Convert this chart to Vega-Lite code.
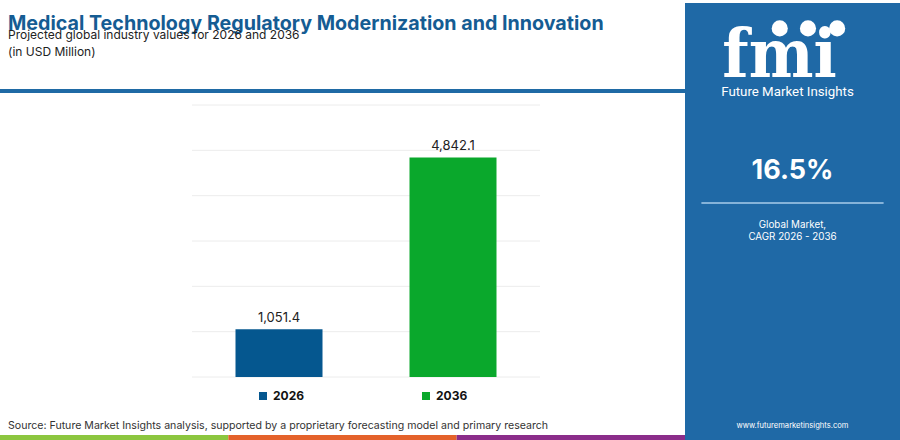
{
  "$schema": "https://vega.github.io/schema/vega-lite/v6.json",
  "padding": {"left": 0, "top": 3, "right": 0, "bottom": 0},
  "background": "#ffffff",
  "spacing": 0,
  "bounds": "full",
  "config": {"view": {"stroke": null}, "font": "Inter"},
  "resolve": {"scale": {"color": "independent", "x": "independent", "y": "independent"}, "legend": {"color": "independent"}},
  "hconcat": [
    {
      "concat": [
        {
          "width": 685,
          "height": 90,
          "title": {
            "text": "Medical Technology Regulatory Modernization and Innovation",
            "subtitle": ["Projected global industry values for 2026 and 2036", "(in USD Million)"],
            "anchor": "start",
            "frame": "group",
            "dx": 8,
            "offset": -55,
            "font": "Inter",
            "fontSize": 19.7,
            "fontWeight": "bold",
            "color": "#155c93",
            "subtitleFont": "Inter",
            "subtitleFontSize": 12,
            "subtitleColor": "#222222",
            "subtitlePadding": -4,
            "subtitleLineHeight": 17
          },
          "data": {"values": [{"part": "header rule"}]},
          "layer": [
            {
              "mark": {"type": "rect", "color": "#1f6aa5"},
              "encoding": {
                "y": {"datum": 0, "type": "quantitative", "scale": {"domain": [0, 22.5]}, "axis": null},
                "y2": {"datum": 1}
              }
            }
          ]
        },
        {
          "width": 685,
          "height": 272,
          "layer": [
            {
              "data": {"name": "gridlines"},
              "mark": {"type": "rule", "color": "#ececec", "strokeWidth": 1},
              "encoding": {
                "y": {"field": "grid", "type": "quantitative"},
                "x": {"datum": "2026", "type": "nominal", "bandPosition": -0.5},
                "x2": {"datum": "2036", "bandPosition": 1.5}
              }
            },
            {
              "data": {"name": "values"},
              "mark": {"type": "bar"},
              "encoding": {
                "x": {"field": "year", "type": "nominal"},
                "y": {"field": "value", "type": "quantitative"},
                "color": {
                  "field": "year",
                  "type": "nominal",
                  "scale": {"domain": ["2026", "2036"], "range": ["#05578f", "#0aa82c"]},
                  "legend": {
                    "orient": "bottom",
                    "direction": "horizontal",
                    "title": " ",
                    "titleOrient": "left",
                    "titlePadding": 249,
                    "symbolType": "square",
                    "symbolSize": 64,
                    "symbolStrokeWidth": 0,
                    "labelFont": "Inter",
                    "labelFontSize": 12,
                    "labelFontWeight": "bold",
                    "labelColor": "#111111",
                    "columnPadding": 115,
                    "offset": 5,
                    "padding": 8
                  }
                }
              }
            },
            {
              "data": {"name": "values"},
              "mark": {"type": "text", "dy": -11, "font": "Inter", "fontSize": 13, "color": "#222222"},
              "encoding": {
                "x": {"field": "year", "type": "nominal"},
                "y": {"field": "value", "type": "quantitative"},
                "text": {"field": "value", "type": "quantitative", "format": ",.1f"}
              }
            }
          ],
          "encoding": {
            "x": {
              "type": "nominal",
              "scale": {"domain": ["2026", "2036"], "range": [192, 540], "paddingInner": 0.5, "paddingOuter": 0.25},
              "axis": null
            },
            "y": {
              "type": "quantitative",
              "scale": {"domain": [0, 6000]},
              "axis": null
            }
          }
        },
        {
          "width": 685,
          "height": 5,
          "title": {
            "text": "Source: Future Market Insights analysis, supported by a proprietary forecasting model and primary research",
            "anchor": "start",
            "frame": "group",
            "dx": 8,
            "offset": 3,
            "font": "Inter",
            "fontSize": 10.6,
            "fontWeight": "normal",
            "color": "#333333"
          },
          "data": {"values": [{"seg": "a"}, {"seg": "b"}, {"seg": "c"}]},
          "mark": {"type": "rect"},
          "encoding": {
            "x": {
              "field": "seg",
              "type": "nominal",
              "scale": {"paddingInner": 0, "paddingOuter": 0},
              "axis": null
            },
            "color": {
              "field": "seg",
              "type": "nominal",
              "scale": {"domain": ["a", "b", "c"], "range": ["#8cc63f", "#e4622b", "#8b2d8a"]},
              "legend": null
            }
          }
        }
      ],
      "columns": 1,
      "align": "none",
      "spacing": 11,
      "bounds": "full",
      "resolve": {"scale": {"color": "independent", "x": "independent", "y": "independent"}, "legend": {"color": "independent"}}
    },
    {
      "width": 215,
      "height": 437,
      "view": {"fill": "#1f69a6", "stroke": null},
      "data": {
        "values": [
          {"item": "logo", "text": "fmi"},
          {"item": "brand", "text": "Future Market Insights"},
          {"item": "cagr", "text": "16.5%"},
          {"item": "divider", "text": ""},
          {"item": "caption", "text": "Global Market,\nCAGR 2026 - 2036"},
          {"item": "url", "text": "www.futuremarketinsights.com"}
        ]
      },
      "encoding": {
        "y": {
          "field": "item",
          "type": "nominal",
          "scale": {"type": "point", "domain": ["logo", "brand", "cagr", "divider", "caption", "url"], "padding": 0.5},
          "axis": null
        },
        "x": {"datum": "panel", "type": "nominal", "bandPosition": 0.5, "scale": {"type": "band", "paddingInner": 0, "paddingOuter": 0.09}, "axis": null}
      },
      "layer": [
        {
          "transform": [{"filter": "datum.item === 'logo'"}],
          "mark": {"type": "text", "font": "DejaVu Serif Condensed", "fontWeight": "bold", "fontSize": 68, "color": "#ffffff", "yOffset": 18, "dx": -13},
          "encoding": {"text": {"field": "text"}}
        },
        {
          "transform": [{"filter": "datum.item === 'logo'"}],
          "mark": {"type": "point", "filled": true, "color": "#ffffff", "opacity": 1, "size": 260, "yOffset": -11},
          "encoding": {"x": {"datum": "panel", "bandPosition": 0.43}}
        },
        {
          "transform": [{"filter": "datum.item === 'logo'"}],
          "mark": {"type": "point", "filled": true, "color": "#ffffff", "opacity": 1, "size": 260, "yOffset": -11},
          "encoding": {"x": {"datum": "panel", "bandPosition": 0.585}}
        },
        {
          "transform": [{"filter": "datum.item === 'logo'"}],
          "mark": {"type": "point", "filled": true, "color": "#ffffff", "opacity": 1, "size": 260, "yOffset": -11},
          "encoding": {"x": {"datum": "panel", "bandPosition": 0.745}}
        },
        {
          "transform": [{"filter": "datum.item === 'brand'"}],
          "mark": {"type": "text", "font": "Roboto", "fontSize": 13.3, "color": "#ffffff", "yOffset": -20, "dx": -5},
          "encoding": {"text": {"field": "text"}}
        },
        {
          "transform": [{"filter": "datum.item === 'cagr'"}],
          "mark": {"type": "text", "font": "Inter", "fontWeight": "bold", "fontSize": 27, "color": "#ffffff", "yOffset": -14},
          "encoding": {"text": {"field": "text"}}
        },
        {
          "transform": [{"filter": "datum.item === 'divider'"}],
          "mark": {"type": "rule", "color": "#a9cdea", "strokeWidth": 1.5, "yOffset": -55},
          "encoding": {
            "x": {"datum": "panel", "bandPosition": 0},
            "x2": {"datum": "panel", "bandPosition": 1}
          }
        },
        {
          "transform": [{"filter": "datum.item === 'caption'"}],
          "mark": {"type": "text", "font": "Inter", "fontSize": 9.8, "lineHeight": 12.5, "lineBreak": "\n", "color": "#ffffff", "yOffset": -106},
          "encoding": {"text": {"field": "text"}}
        },
        {
          "transform": [{"filter": "datum.item === 'url'"}],
          "mark": {"type": "text", "font": "Inter", "fontSize": 7.6, "color": "#ffffff", "yOffset": 22},
          "encoding": {"text": {"field": "text"}}
        }
      ]
    }
  ],
  "datasets": {
    "values": [
      {"year": "2026", "value": 1051.4},
      {"year": "2036", "value": 4842.1}
    ],
    "gridlines": [
      {"grid": 0}, {"grid": 1000}, {"grid": 2000}, {"grid": 3000}, {"grid": 4000}, {"grid": 5000}, {"grid": 6000}
    ]
  }
}
